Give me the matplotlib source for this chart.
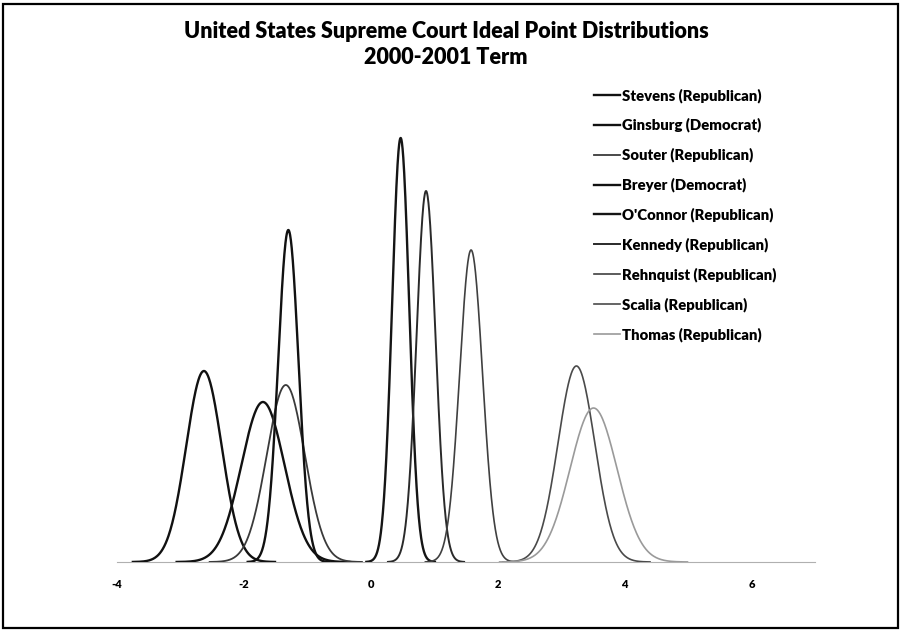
# Supreme Court ideal point distributions, 2000-2001 term

import numpy as np
import matplotlib.pyplot as plt
from matplotlib.patches import Rectangle

justices = ["Stevens (Republican)", "Ginsburg (Democrat)", "Souter (Republican)",
            "Breyer (Democrat)", "O'Connor (Republican)", "Kennedy (Republican)",
            "Rehnquist (Republican)", "Scalia (Republican)", "Thomas (Republican)"]
means = [-2.63, -1.70, -1.34, -1.30, 0.47, 0.87, 1.58, 3.24, 3.51]
sds = [0.28, 0.34, 0.30, 0.16, 0.135, 0.15, 0.18, 0.29, 0.37]
peaks = [1.91, 1.60, 1.77, 3.32, 4.24, 3.71, 3.12, 1.96, 1.54]
colors = ["#111111", "#111111", "#3a3a3a", "#111111", "#151515",
          "#2a2a2a", "#404040", "#4a4a4a", "#9a9a9a"]
widths = [1.7, 1.7, 1.3, 1.7, 1.7, 1.4, 1.2, 1.2, 1.2]
xticks = [-4, -2, 0, 2, 4, 6]

plt.rcParams["font.family"] = ["Lato", "DejaVu Sans"]
plt.rcParams["font.weight"] = "bold"

fig = plt.figure(figsize=(9.02, 6.32), dpi=100)
ax = fig.add_axes([117 / 902, 70 / 632, 698 / 902, 462 / 632])

for name, m, s, p, c, w in zip(justices, means, sds, peaks, colors, widths):
    x = np.linspace(m - 4 * s, m + 4 * s, 300)
    y = p * np.exp(-0.5 * ((x - m) / s) ** 2)
    ax.plot(x, y, color=c, lw=w, label=name)

ax.set_xlim(-4, 7)
ax.set_ylim(0, 4.62)
ax.set_xticks(xticks)
ax.set_xticklabels([str(t) for t in xticks], fontsize=8, fontweight="heavy")
ax.tick_params(axis="x", length=0, pad=12)
ax.set_yticks([])
for side in ["top", "right", "left"]:
    ax.spines[side].set_visible(False)
ax.spines["bottom"].set_color("#b0b0b0")
ax.spines["bottom"].set_linewidth(0.8)
ax.spines["bottom"].set_zorder(0)

fig.text(446 / 902, 1 - 32 / 632, "United States Supreme Court Ideal Point Distributions",
         ha="center", va="center", fontsize=15.5, fontweight="heavy")
fig.text(446 / 902, 1 - 57 / 632, "2000-2001 Term",
         ha="center", va="center", fontsize=15.5, fontweight="heavy")

ax.legend(loc="upper left", bbox_to_anchor=(594 / 902, 1 - 88 / 632),
          bbox_transform=fig.transFigure, frameon=False,
          prop={"size": 10.7, "weight": "heavy"},
          handlelength=1.75, handletextpad=0.12, labelspacing=1.03,
          borderpad=0, borderaxespad=0)

fig.add_artist(Rectangle((3 / 902, 4 / 632), 895 / 902, 624 / 632,
                         transform=fig.transFigure, fill=False,
                         edgecolor="black", linewidth=1.6))

fig.savefig("out.png", dpi=100)
